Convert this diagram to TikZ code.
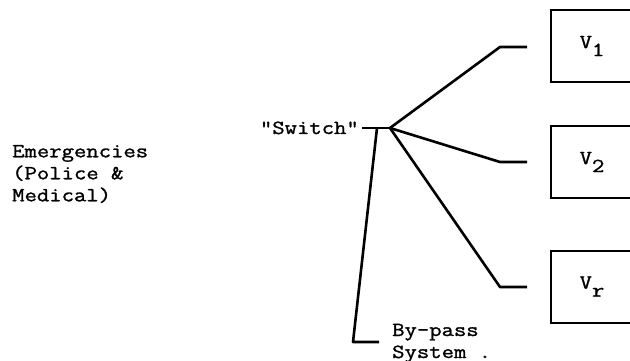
\documentclass[tikz,border=0pt]{standalone}
\usepackage{fontspec}
\setmonofont{Latin Modern Mono}[FakeStretch=1.2, AutoFakeBold=1.3]
\begin{document}
\begin{tikzpicture}[x=1pt,y=-1pt,
  lbl/.style={font=\ttfamily\bfseries\fontsize{20}{22}\selectfont, inner sep=0pt},
  vbox/.style={draw, line width=2pt, minimum width=82pt, minimum height=72pt, inner sep=0pt,
               font=\ttfamily\bfseries\fontsize{20}{22}\selectfont},
  wire/.style={line width=2.6pt, line join=round}]
\useasboundingbox (0,0) rectangle (630,361);
% texts
\node[lbl, anchor=west, align=left] (emer) at (12,174) {Emergencies\\(Police \&\\Medical)};
\node[lbl, anchor=base east] (sw) at (359,134) {"Switch"};
\node[lbl, anchor=base west, align=left] (bypass) at (392,336) {By-pass};
\node[lbl, anchor=base west] (system) at (392,358) {System .};
% boxes
\node[vbox] (v1) at (592,46) {V\raisebox{-8pt}{1}};
\node[vbox] (v2) at (592,162) {V\raisebox{-8pt}{2}};
\node[vbox] (vr) at (592,286.5) {V\raisebox{-8pt}{r}};
% junction coordinates
\coordinate (s0) at (362,128);
\coordinate (j) at (390,128);
\coordinate (b0) at (377,128);
\coordinate (b1) at (353,342);
\coordinate (b2) at (379,342);
\coordinate (k1) at (500,47);
\coordinate (e1) at (527,47);
\coordinate (k2) at (500,162);
\coordinate (e2) at (527,162);
\coordinate (kr) at (500,287);
\coordinate (er) at (527,287);
% wires
\draw[wire] (s0) -- (j);
\draw[wire] (j) -- (k1) -- (e1);
\draw[wire] (j) -- (k2) -- (e2);
\draw[wire] (j) -- (kr) -- (er);
\draw[wire] (b0) -- (b1) -- (b2);
\end{tikzpicture}
\end{document}
